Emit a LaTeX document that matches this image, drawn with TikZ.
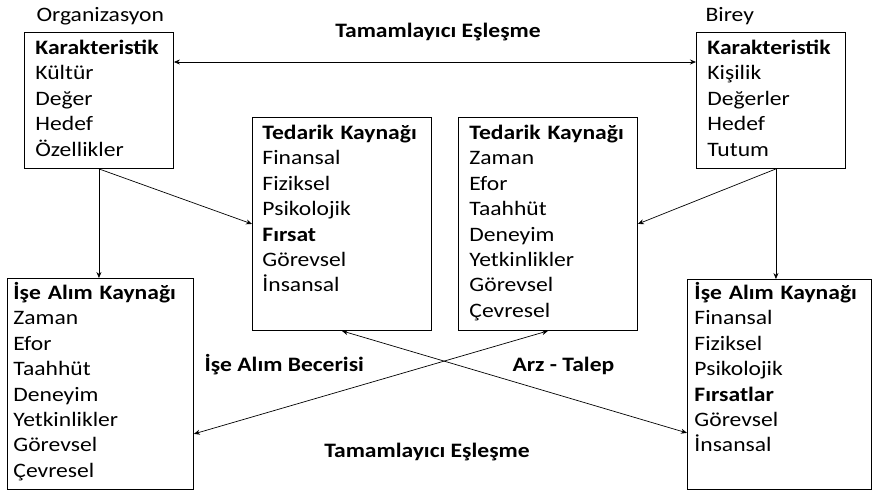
\documentclass[tikz,border=0pt]{standalone}
\usepackage{fontspec}
\setmainfont[FakeStretch=1.15]{Carlito}
\usepackage{tikz}
\usetikzlibrary{calc}
\usetikzlibrary{arrows.meta}

\begin{document}
\begin{tikzpicture}[x=1pt,y=-1pt,
        kutu/.style={draw, line width=0.9pt, anchor=north west, inner ysep=0pt, align=left,
            font=\fontsize{20.5}{25.4}\selectfont},
        baslik/.style={font=\fontsize{20.5}{25.4}\selectfont\bfseries},
        etiket/.style={font=\fontsize{20.5}{25.4}\selectfont},
        ok/.style={line width=0.7pt, -{Stealth[length=6pt,width=5pt]}},
        ciftok/.style={line width=0.7pt, {Stealth[length=6pt,width=5pt]}-{Stealth[length=6pt,width=5pt]}}]
        \useasboundingbox (0,0) rectangle (873,491);

        % ust kutular
        \node (orglbl) [etiket, anchor=base west] at (33,21) {Organizasyon};
        \node (bireylbl) [etiket, anchor=base west] at (702,21) {Birey};
        \node (orgk) [kutu, inner xsep=11pt, text width=127pt, text height=22pt, text depth=114pt] at (24,32)
            {\textbf{Karakteristik}\\Kültür\\Değer\\Hedef\\Özellikler};
        \node (bireyk) [kutu, inner xsep=11pt, text width=127pt, text height=22pt, text depth=114pt] at (696,32)
            {\textbf{Karakteristik}\\Kişilik\\Değerler\\Hedef\\Tutum};

        % orta kutular
        \node (tedA) [kutu, inner xsep=10pt, text width=159pt, text height=22pt, text depth=191pt] at (252,117)
            {\textbf{Tedarik Kaynağı}\\Finansal\\Fiziksel\\Psikolojik\\\textbf{Fırsat}\\Görevsel\\İnsansal};
        \node (tedB) [kutu, inner xsep=11pt, text width=157pt, text height=22pt, text depth=191pt] at (458,117)
            {\textbf{Tedarik Kaynağı}\\Zaman\\Efor\\Taahhüt\\Deneyim\\Yetkinlikler\\Görevsel\\Çevresel};

        % alt kutular
        \node (iseA) [kutu, inner xsep=6pt, text width=174pt, text height=21pt, text depth=190pt] at (7,278)
            {\textbf{İşe Alım Kaynağı}\\Zaman\\Efor\\Taahhüt\\Deneyim\\Yetkinlikler\\Görevsel\\Çevresel};
        \node (iseB) [kutu, inner xsep=7pt, text width=170pt, text height=20pt, text depth=190pt] at (687,279)
            {\textbf{İşe Alım Kaynağı}\\Finansal\\Fiziksel\\Psikolojik\\\textbf{Fırsatlar}\\Görevsel\\İnsansal};

        % etiketler
        \node (ustlbl) [baslik, anchor=base] at (438,37) {Tamamlayıcı Eşleşme};
        \node (becerilbl) [baslik, anchor=base west] at (201,371) {İşe Alım Becerisi};
        \node (arzlbl) [baslik, anchor=base west] at (509,371) {Arz - Talep};
        \node (altlbl) [baslik, anchor=base] at (427,457) {Tamamlayıcı Eşleşme};

        \coordinate (U1) at ($(orgk.north east) + (0,30)$);
        \coordinate (U2) at ($(bireyk.north west) + (0,30)$);
        \coordinate (B1) at ($(bireyk.south) + (5,0)$);
        \coordinate (S1) at ($(iseB.south west) + (0,-57)$);
        \coordinate (S2) at ($(iseA.south east) + (0,-56)$);

        \draw[ciftok] (U1) -- (U2);
        \draw[ok] (orgk.south) -- (orgk.south |- iseA.north);
        \draw[ok] (orgk.south) -- (tedA.west);
        \draw[ok] (B1) -- (B1 |- iseB.north);
        \draw[ok] (B1) -- (tedB.east);
        \draw[ciftok] (tedA.south) -- (S1);
        \draw[ciftok] (tedB.south) -- (S2);
    \end{tikzpicture}
\end{document}
